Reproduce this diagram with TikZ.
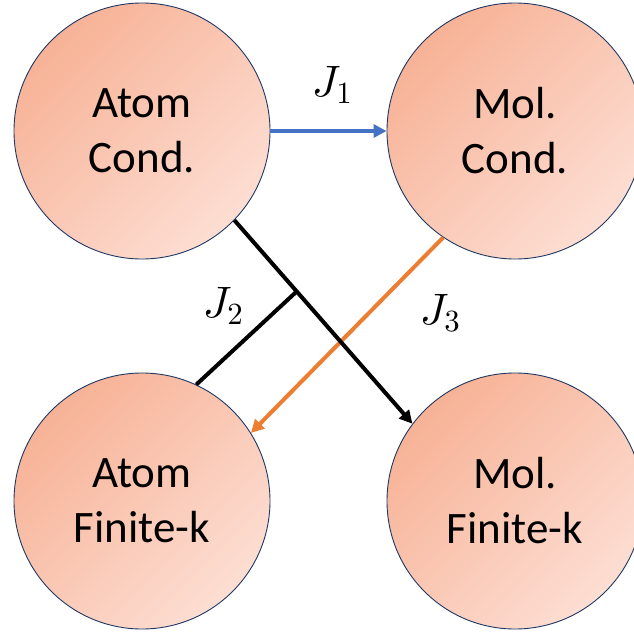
\documentclass[tikz,border=0pt]{standalone}
\usepackage{fontspec}
\setmainfont{Carlito}
\usetikzlibrary{arrows.meta}
% scalable math fonts for the large labels
\DeclareFontShape{OML}{cmm}{m}{it}{<->cmmi10}{}
\DeclareFontShape{OT1}{cmr}{m}{n}{<->cmr10}{}
\DeclareFontShape{OMS}{cmsy}{m}{n}{<->cmsy10}{}
\definecolor{salmondark}{RGB}{247,178,150}
\definecolor{salmonlight}{RGB}{253,222,211}
\definecolor{rimblue}{RGB}{31,56,100}
\definecolor{linkblue}{RGB}{68,114,196}
\definecolor{linkorange}{RGB}{237,125,49}
\begin{document}
\begin{tikzpicture}[x=1pt,y=-1pt,
  blob/.style={circle,draw=rimblue,line width=0.9pt,minimum size=256pt,inner sep=0pt,
    left color=salmondark,right color=salmonlight,shading angle=45,
    align=center,font=\fontsize{45}{55}\selectfont},
  link/.style={line width=4pt,-{Triangle[length=13pt,width=13pt]}},
  jlabel/.style={font=\fontsize{44}{52}\selectfont}]
  \useasboundingbox (0,0) rectangle (634,635);
  \node[blob](AC) at (142,131) {Atom\\Cond.};
  \node[blob](MC) at (515,131) {Mol.\\Cond.};
  \node[blob](AF) at (142,501) {Atom\\Finite-k};
  \node[blob](MF) at (515,501) {Mol.\\Finite-k};
  \draw[link,linkblue] (AC.east) -- (MC.west);
  \draw[link,linkorange] (MC.236) -- (AF.32);
  \draw[link,black] (AC.316) -- coordinate[pos=0.35](J) (MF.143);
  \draw[line width=4pt] (J) -- (AF.65);
  \node[jlabel](L1) at (332,85) {$J_1$};
  \node[jlabel](L2) at (223,306) {$J_2$};
  \node[jlabel](L3) at (440,313) {$J_3$};
\end{tikzpicture}
\end{document}
